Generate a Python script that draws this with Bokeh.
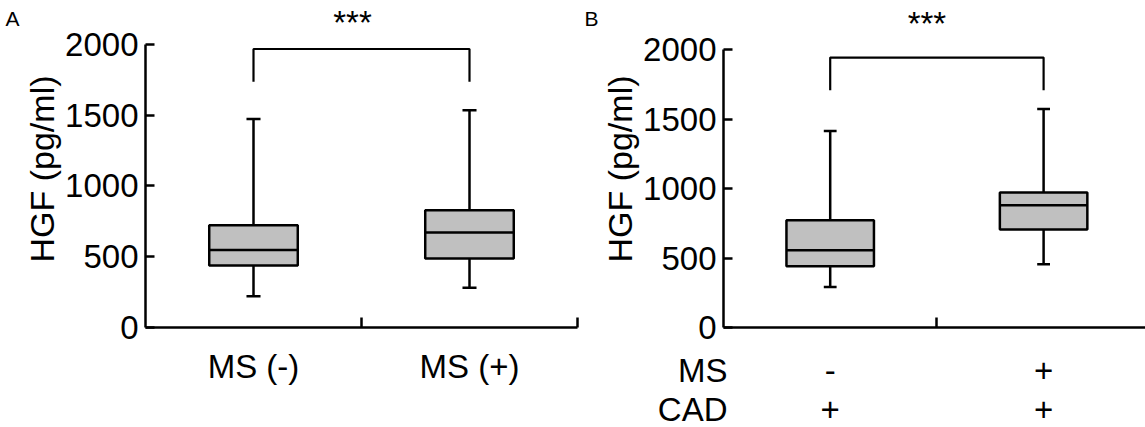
from bokeh.plotting import figure
from bokeh.models import Range1d, FixedTicker, Label
from bokeh.layouts import row, column
from bokeh.core.properties import value
from bokeh.embed import file_html
from bokeh.resources import INLINE

# ---------------- data ----------------
# Panel A
a_groups = ["MS (-)", "MS (+)"]
a_lower = [221, 280]
a_q1 = [438, 487]
a_median = [548, 671]
a_q3 = [722, 828]
a_upper = [1473, 1535]
a_bracket = [1735, 1967]   # leg bottom, bar top

# Panel B
b_rows = ["MS", "CAD"]
b_ms = ["-", "+"]
b_cad = ["+", "+"]
b_lower = [292, 455]
b_q1 = [441, 705]
b_median = [556, 880]
b_q3 = [772, 971]
b_upper = [1414, 1573]
b_bracket = [1707, 1942]

y_ticks = [0, 500, 1000, 1500, 2000]
y_title = "HGF (pg/ml)"
sig = "***"

FONT = "Liberation Sans"
FS = "33px"
FS_LABEL = "34px"
LW = 2.5
BOX_W = 0.41
H = 427


def blank(width, height):
    p = figure(width=width, height=height, x_range=Range1d(0, 1),
               y_range=Range1d(0, 1), output_backend="svg",
               toolbar_location=None, min_border=0)
    p.axis.visible = False
    p.grid.visible = False
    p.outline_line_color = None
    return p


def panel(width, height, x_range, y_end, min_left, min_right, min_bottom,
          lower, q1, med, q3, upper, bracket, cap_w, label_standoff):
    p = figure(width=width, height=height, x_range=x_range,
               y_range=Range1d(0, y_end), output_backend="svg",
               toolbar_location=None, min_border_left=min_left,
               min_border_right=min_right, min_border_top=10,
               min_border_bottom=min_bottom)
    p.outline_line_color = None
    p.grid.visible = False

    n = len(q1)
    xs = [0.5 + i for i in range(n)]

    # whiskers and caps
    p.segment(x0=xs, y0=q3, x1=xs, y1=upper, line_color="black", line_width=LW)
    p.segment(x0=xs, y0=q1, x1=xs, y1=lower, line_color="black", line_width=LW)
    p.segment(x0=[x - cap_w / 2 for x in xs], y0=upper,
              x1=[x + cap_w / 2 for x in xs], y1=upper,
              line_color="black", line_width=LW)
    p.segment(x0=[x - cap_w / 2 for x in xs], y0=lower,
              x1=[x + cap_w / 2 for x in xs], y1=lower,
              line_color="black", line_width=LW)
    # boxes and medians
    p.vbar(x=xs, width=BOX_W, top=q3, bottom=q1, fill_color="#c0c0c0",
           line_color="black", line_width=LW)
    p.segment(x0=[x - BOX_W / 2 for x in xs], y0=med,
              x1=[x + BOX_W / 2 for x in xs], y1=med,
              line_color="black", line_width=LW)
    # significance bracket
    p.line(x=[xs[0], xs[0], xs[-1], xs[-1]],
           y=[bracket[0], bracket[1], bracket[1], bracket[0]],
           line_color="black", line_width=2.2)

    # y axis
    ya = p.yaxis[0]
    ya.ticker = FixedTicker(ticks=y_ticks)
    ya.bounds = (y_ticks[0], y_ticks[-1])
    ya.axis_line_width = LW
    ya.axis_line_color = "black"
    ya.major_tick_in = 9
    ya.major_tick_out = 0
    ya.major_tick_line_width = LW
    ya.major_tick_line_color = "black"
    ya.minor_tick_line_color = None
    ya.major_label_text_font = FONT
    ya.major_label_text_font_size = FS
    ya.major_label_text_color = "black"
    ya.major_label_standoff = 7
    ya.axis_label = y_title
    ya.axis_label_text_font = FONT
    ya.axis_label_text_font_size = FS_LABEL
    ya.axis_label_text_font_style = "normal"
    ya.axis_label_text_color = "black"
    ya.axis_label_standoff = label_standoff

    # x axis
    xa = p.xaxis[0]
    xa.axis_line_width = LW
    xa.axis_line_color = "black"
    xa.major_tick_in = 0
    xa.major_tick_out = 0
    xa.minor_tick_in = 10
    xa.minor_tick_out = 0
    xa.minor_tick_line_width = LW
    xa.minor_tick_line_color = "black"
    xa.major_label_text_font = FONT
    xa.major_label_text_font_size = FS
    xa.major_label_text_color = "black"
    return p, xs


def letter(width, text, dx):
    p = blank(width, H)
    p.add_layout(Label(x=0, y=1, x_offset=dx, y_offset=-8, text=text,
                       text_font=FONT, text_font_size="21px",
                       text_color="black", text_align="left",
                       text_baseline="alphabetic"))
    return p


# ---------- Panel A ----------
letter_a = letter(20, "A", 5)

pa, xa_s = panel(560, H, Range1d(0, 2.0), 2239, 125, 3, 100, a_lower, a_q1,
                 a_median, a_q3, a_upper, a_bracket, 0.065, 1)
pa.xaxis[0].ticker = FixedTicker(ticks=xa_s, minor_ticks=[1.0, 2.0])
pa.xaxis[0].major_label_overrides = {x: t for x, t in zip(xa_s, a_groups)}
pa.xaxis[0].major_label_standoff = 20
pa.add_layout(Label(x=(xa_s[0] + xa_s[-1]) / 2, y=2239, x_offset=-9,
                    y_offset=-12, text=sig, text_font=FONT,
                    text_font_size=FS, text_color="black",
                    text_align="center", text_baseline="alphabetic"))

# ---------- Panel B ----------
letter_b = letter(18, "B", 4)

B_W = 547
B_LEFT = 125
B_TOP_H = 349
B_BOT_H = H - B_TOP_H
px_per_unit = 213.4
b_xr = Range1d(0, (B_W - B_LEFT) / px_per_unit)

pb, xb_s = panel(B_W, B_TOP_H, b_xr, 2281, B_LEFT, 0, 22, b_lower, b_q1,
                 b_median, b_q3, b_upper, b_bracket, 0.06, 1)
pb.xaxis[0].ticker = FixedTicker(ticks=[], minor_ticks=[1.0])
pb.xaxis[0].major_label_standoff = 0
pb.add_layout(Label(x=(xb_s[0] + xb_s[-1]) / 2, y=2281, x_offset=-10,
                    y_offset=-13, text=sig, text_font=FONT,
                    text_font_size=FS, text_color="black",
                    text_align="center", text_baseline="alphabetic"))

# condition table under panel B (shares panel B's x range)
row_y = [1, 0]
pbb = figure(width=B_W, height=B_BOT_H, x_range=b_xr,
             y_range=Range1d(-0.47, 1.544), output_backend="svg",
             toolbar_location=None, min_border_left=B_LEFT,
             min_border_right=0, min_border_top=0, min_border_bottom=0)
pbb.outline_line_color = None
pbb.grid.visible = False
pbb.xaxis.visible = False
yb = pbb.yaxis[0]
yb.ticker = FixedTicker(ticks=row_y)
yb.major_label_overrides = {y: t for y, t in zip(row_y, b_rows)}
yb.axis_line_color = None
yb.major_tick_line_color = None
yb.minor_tick_line_color = None
yb.major_label_standoff = -10
yb.major_label_text_font = FONT
yb.major_label_text_font_size = FS
yb.major_label_text_color = "black"
txt = dict(text_font=value(FONT), text_font_size=value(FS),
           text_color="black", text_baseline="middle", text_align="center")
pbb.text(x=xb_s, y=[row_y[0]] * len(b_ms), text=b_ms, **txt)
pbb.text(x=xb_s, y=[row_y[1]] * len(b_cad), text=b_cad, **txt)

layout = row(letter_a, pa, letter_b, column(pb, pbb))
open("out.html", "w").write(file_html(layout, INLINE))
